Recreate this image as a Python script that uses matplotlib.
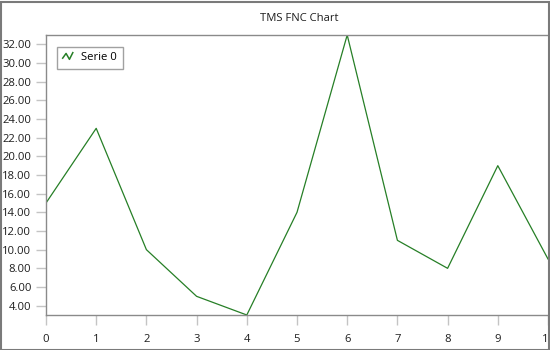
import matplotlib
matplotlib.use("Agg")
import matplotlib.pyplot as plt
from matplotlib.legend_handler import HandlerBase
from matplotlib.lines import Line2D
from matplotlib.patches import Rectangle

x_values = [0, 1, 2, 3, 4, 5, 6, 7, 8, 9, 10]
serie0 = [15, 23, 10, 5, 3, 14, 33, 11, 8, 19, 9]
y_ticks = [4, 6, 8, 10, 12, 14, 16, 18, 20, 22, 24, 26, 28, 30, 32]
series_name = "Serie 0"
title = "TMS FNC Chart"

plt.rcParams['font.family'] = ['Open Sans', 'DejaVu Sans']
green = '#267f26'
spine_c = '#8a8a8a'
tick_c = '#c4c4c4'
txt_c = '#1e1e1e'
fs = 8.1

fig = plt.figure(figsize=(5.5, 3.5), dpi=100)
ax = fig.add_axes([46/550, 1-315/350, 502/550, 280/350])

ax.plot(x_values, serie0, color=green, lw=0.9)
ax.set_xlim(min(x_values), max(x_values))
ax.set_ylim(min(serie0), max(serie0))
ax.set_xticks(x_values)
ax.set_yticks(y_ticks)
ax.set_yticklabels([f"{v:.2f}" for v in y_ticks])
for s in ['left', 'bottom', 'top']:
    ax.spines[s].set_color(spine_c)
    ax.spines[s].set_linewidth(1.0)
ax.spines['right'].set_visible(False)
ax.tick_params(axis='y', length=7.2, width=1, color=tick_c, pad=3.4, labelsize=fs, labelcolor=txt_c)
ax.tick_params(axis='x', length=7.2, width=1, color=tick_c, pad=6.3, labelsize=fs, labelcolor=txt_c)
for lab in ax.get_xticklabels():
    lab.set_clip_on(False)

fig.text(299/550, 1 - 18.5/350, title, ha='center', va='center', fontsize=fs, color=txt_c)


class ZigzagHandler(HandlerBase):
    def create_artists(self, legend, orig_handle, xdescent, ydescent, width, height, fontsize, trans):
        x0 = -xdescent
        y0 = -ydescent
        xs = [x0 + width*0.05, x0 + width*0.35, x0 + width*0.65, x0 + width*0.95]
        ys = [y0 + height*0.25, y0 + height*0.85, y0 + height*0.1, y0 + height*0.95]
        ln = Line2D(xs, ys, color=orig_handle.get_color(), lw=1.1, transform=trans)
        return [ln]


handle = Line2D([], [], color=green)
leg = ax.legend([handle], [series_name], loc='upper left', bbox_to_anchor=(10.5/502, 1 - 11.5/280),
                handler_map={Line2D: ZigzagHandler()}, frameon=True, fancybox=False,
                fontsize=fs, handlelength=1.0, handletextpad=0.7, borderpad=0.5,
                borderaxespad=0)
leg.get_frame().set_edgecolor(spine_c)
leg.get_frame().set_linewidth(1.0)

border = Rectangle((0.5/550, 0.5/350), 548/550, 348/350, transform=fig.transFigure,
                   fill=False, edgecolor='#7a7a7a', lw=1.5)
fig.patches.append(border)

fig.savefig("out.png", dpi=100)
